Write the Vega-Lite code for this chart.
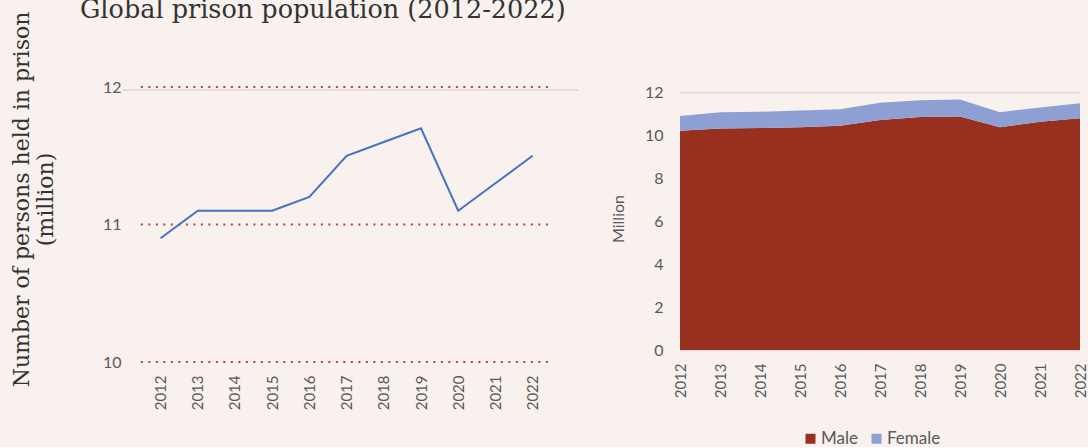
{
  "$schema": "https://vega.github.io/schema/vega-lite/v6.json",
  "background": "#f8f1ee",
  "padding": {"left": 10, "top": -3, "right": 0, "bottom": 0},
  "bounds": "flush",
  "spacing": 102,
  "resolve": {"legend": {"color": "independent"}, "scale": {"color": "independent"}},
  "datasets": {
    "total": [
      {"year": 2012, "pop": 10.9}, {"year": 2013, "pop": 11.1}, {"year": 2014, "pop": 11.1},
      {"year": 2015, "pop": 11.1}, {"year": 2016, "pop": 11.2}, {"year": 2017, "pop": 11.5},
      {"year": 2018, "pop": 11.6}, {"year": 2019, "pop": 11.7}, {"year": 2020, "pop": 11.1},
      {"year": 2021, "pop": 11.3}, {"year": 2022, "pop": 11.5}
    ],
    "guides": [{"level": 10}, {"level": 11}, {"level": 12}],
    "bysex": [
      {"year": 2012, "sex": "Male", "value": 10.21}, {"year": 2012, "sex": "Female", "value": 0.69},
      {"year": 2013, "sex": "Male", "value": 10.32}, {"year": 2013, "sex": "Female", "value": 0.75},
      {"year": 2014, "sex": "Male", "value": 10.34}, {"year": 2014, "sex": "Female", "value": 0.76},
      {"year": 2015, "sex": "Male", "value": 10.37}, {"year": 2015, "sex": "Female", "value": 0.78},
      {"year": 2016, "sex": "Male", "value": 10.45}, {"year": 2016, "sex": "Female", "value": 0.76},
      {"year": 2017, "sex": "Male", "value": 10.71}, {"year": 2017, "sex": "Female", "value": 0.81},
      {"year": 2018, "sex": "Male", "value": 10.85}, {"year": 2018, "sex": "Female", "value": 0.78},
      {"year": 2019, "sex": "Male", "value": 10.88}, {"year": 2019, "sex": "Female", "value": 0.79},
      {"year": 2020, "sex": "Male", "value": 10.38}, {"year": 2020, "sex": "Female", "value": 0.69},
      {"year": 2021, "sex": "Male", "value": 10.63}, {"year": 2021, "sex": "Female", "value": 0.67},
      {"year": 2022, "sex": "Male", "value": 10.79}, {"year": 2022, "sex": "Female", "value": 0.70}
    ]
  },
  "config": {
    "view": {"stroke": null},
    "font": "Lato",
    "axis": {"labelColor": "#595959", "labelFontSize": 15, "labelFont": "Lato", "labelOverlap": false},
    "axisY": {"labelFontSize": 16},
    "legend": {"labelColor": "#595959", "labelFontSize": 17, "labelFont": "Lato"}
  },
  "hconcat": [
    {
      "width": 455,
      "height": 275,
      "title": {
        "text": "Global prison population (2012-2022)",
        "font": "DejaVu Serif",
        "fontSize": 25.5,
        "fontWeight": "normal",
        "color": "#333333",
        "anchor": "start",
        "frame": "group",
        "dx": -43,
        "offset": -32,
        "baseline": "alphabetic"
      },
      "layer": [
        {
          "data": {"name": "guides"},
          "mark": {"type": "rule", "color": "#b8432e", "strokeDash": [2, 5.5], "strokeWidth": 2},
          "encoding": {
            "y": {
              "field": "level", "type": "quantitative",
              "scale": {"domain": [10, 12], "nice": false, "zero": false},
              "axis": {
                "values": [10, 11, 12], "tickCount": 3, "labelExpr": "format(datum.value, 'd')",
                "domain": false, "ticks": false, "grid": false,
                "labelPadding": 2, "labelOverlap": false,
                "title": ["Number of persons held in prison", "(million)"],
                "titleFont": "DejaVu Serif", "titleFontSize": 22, "titleFontWeight": "normal",
                "titleColor": "#333333", "titlePadding": 45, "titleLineHeight": 24, "titleY": 112
              }
            },
            "x": {
              "datum": 2011.47, "type": "quantitative",
              "scale": {"domain": [2010.99, 2023.22], "nice": false, "zero": false},
              "axis": {
                "values": [2012, 2013, 2014, 2015, 2016, 2017, 2018, 2019, 2020, 2021, 2022],
                "format": "d", "labelAngle": -90, "domain": false, "ticks": false, "grid": false,
                "title": null, "labelPadding": 13
              }
            },
            "x2": {"datum": 2022.41}
          }
        },
        {
          "data": {"name": "guides"},
          "transform": [{"filter": "datum.level == 12"}],
          "mark": {"type": "rule", "color": "#d6d6d6", "strokeWidth": 1.5, "yOffset": 3},
          "encoding": {"y": {"field": "level", "type": "quantitative"}}
        },
        {
          "data": {"name": "total"},
          "mark": {"type": "line", "color": "#4472c4", "strokeWidth": 2},
          "encoding": {
            "x": {"field": "year", "type": "quantitative"},
            "y": {"field": "pop", "type": "quantitative"}
          }
        }
      ]
    },
    {
      "width": 400,
      "height": 263,
      "data": {"name": "bysex"},
      "mark": {"type": "area"},
      "encoding": {
        "x": {
          "field": "year", "type": "quantitative",
          "scale": {"domain": [2012, 2022], "nice": false, "zero": false},
          "axis": {
            "values": [2012, 2013, 2014, 2015, 2016, 2017, 2018, 2019, 2020, 2021, 2022],
            "format": "d", "labelAngle": -90, "domain": false, "ticks": false, "grid": false,
            "title": null, "labelPadding": 13
          }
        },
        "y": {
          "field": "value", "type": "quantitative", "stack": "zero",
          "scale": {"domain": [0, 12.25], "nice": false},
          "axis": {
            "values": [0, 2, 4, 6, 8, 10, 12], "domain": false, "ticks": false,
            "grid": true, "gridColor": "#d9d9d9", "gridWidth": 1.5,
            "labelPadding": 17,
            "title": "Million", "titleFont": "Lato", "titleFontSize": 16, "titleFontWeight": "normal",
            "titleColor": "#595959", "titlePadding": 18
          }
        },
        "color": {
          "field": "sex", "type": "nominal",
          "scale": {"domain": ["Male", "Female"], "range": ["#983020", "#8ea0d3"]},
          "legend": {
            "title": null, "orient": "none", "legendX": 122, "legendY": 343, "direction": "horizontal",
            "symbolType": "square", "symbolSize": 100, "symbolStrokeWidth": 0,
            "labelOffset": 2, "columnPadding": 10
          }
        },
        "order": {"field": "sex", "sort": "descending"}
      }
    }
  ]
}
